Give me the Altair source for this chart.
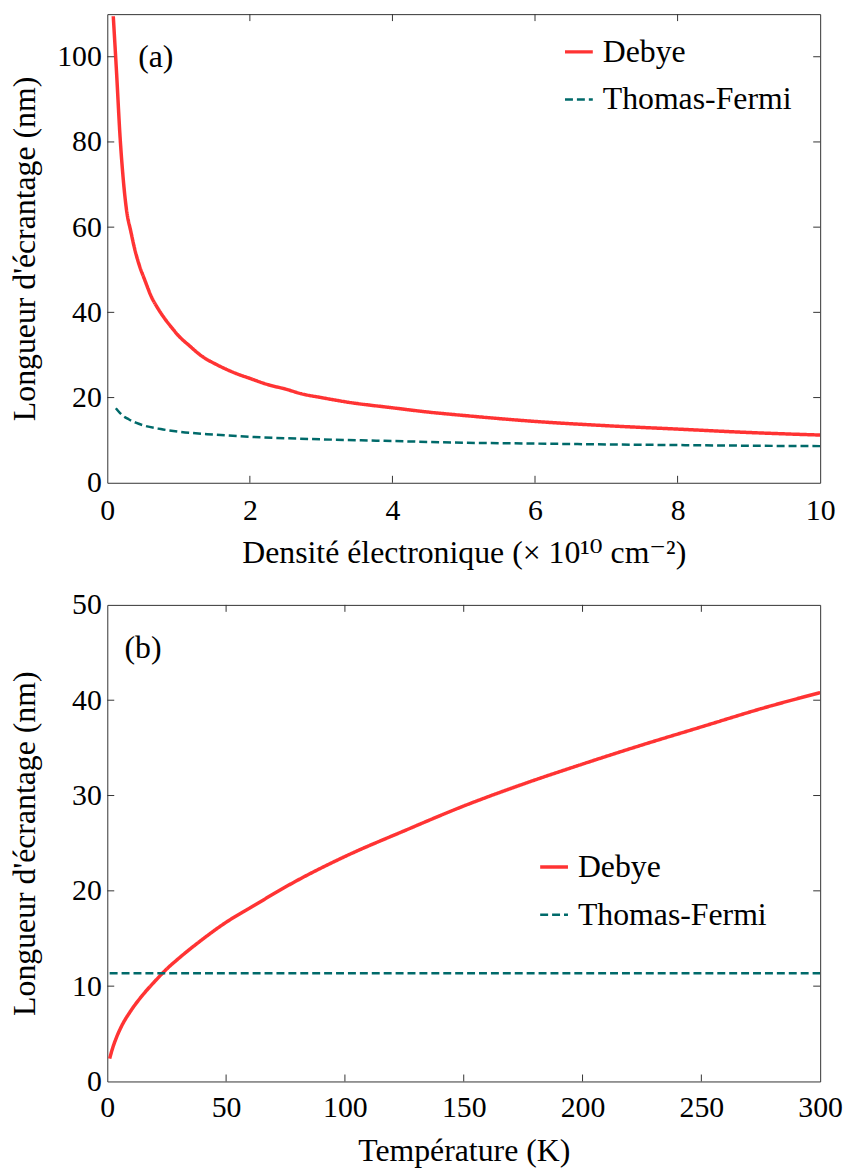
import altair as alt
import pandas as pd

# ---------------- data ----------------
series = ["Debye", "Thomas-Fermi"]

# panel (a): screening length vs electron density
a_debye_n = [0.084, 0.13, 0.18, 0.22, 0.27, 0.33, 0.39, 0.45, 0.53, 0.62, 0.70, 0.79,
             0.90, 1.0, 1.15, 1.32, 1.55, 1.8, 2.0, 2.26, 2.5, 2.72, 3.0, 3.38, 4.0,
             4.5, 5.0, 6.0, 7.0, 8.0, 9.0, 10.0]
a_debye_L = [109.5, 96.3, 81.0, 72.0, 64.0, 59.0, 54.5, 51.0, 47.4, 43.6, 41.2, 38.9,
             36.5, 34.5, 32.2, 29.8, 27.6, 25.7, 24.5, 23.0, 22.0, 20.9, 20.0, 18.9, 17.6,
             16.6, 15.8, 14.4, 13.4, 12.6, 11.8, 11.2]
a_tf_n = [0.12, 0.2, 0.3, 0.4, 0.5, 0.75, 1.0, 1.5, 2.0, 3.0, 4.0, 5.0, 6.0, 7.0, 8.0, 9.0, 10.0]
a_tf_L = [17.5, 16.0, 14.9, 14.1, 13.5, 12.6, 12.0, 11.3, 10.8, 10.2, 9.8, 9.4, 9.2, 9.0, 8.85, 8.7, 8.6]

# panel (b): screening length vs temperature
b_debye_T = [1, 2, 4, 6, 10, 15, 20, 25, 30, 40, 50, 60, 80, 100, 125, 150, 175, 200,
             225, 250, 275, 300]
b_debye_L = [2.4, 3.3, 4.7, 5.8, 7.45, 9.1, 10.5, 11.8, 12.9, 14.9, 16.7, 18.2, 21.1,
             23.6, 26.3, 28.9, 31.2, 33.3, 35.3, 37.2, 39.1, 40.8]
b_tf_T = [1, 300]
b_tf_L = [11.35, 11.35]

a_xlabels = [0, 2, 4, 6, 8, 10]
a_ylabels = [0, 20, 40, 60, 80, 100]
b_xlabels = [0, 50, 100, 150, 200, 250, 300]
b_ylabels = [0, 10, 20, 30, 40, 50]
a_xticks = [2, 4, 6, 8]
a_yticks = [20, 40, 60, 80, 100]
b_xticks = [50, 100, 150, 200, 250]
b_yticks = [10, 20, 30, 40]

ann_a = {"x": [0.68], "y": [100.0], "t": ["(a)"]}
ann_b = {"x": [15.0], "y": [45.5], "t": ["(b)"]}

colors = ["#ff3333", "#006a6a"]
dashes = [[1, 0], [8, 4]]
widths = [3.5, 2.5]

FONT = "Liberation Serif, DejaVu Serif"
FRAME = "#333333"
W = 718
TL = 7  # inward tick length


def make_df(xs1, ys1, xs2, ys2):
    d1 = pd.DataFrame({"x": xs1, "y": ys1, "s": series[0]})
    d2 = pd.DataFrame({"x": xs2, "y": ys2, "s": series[1]})
    return pd.concat([d1, d2], ignore_index=True)


def panel(df, xdom, ydom, xlabels, ylabels, xticks, yticks, xtitle, ytitle, H, lx, ly, ann,
          xlabpad, xtitlepad):
    xaxis = alt.Axis(values=xlabels, ticks=False, tickSize=0, domain=False, grid=False,
                     labelFont=FONT, labelFontSize=30, labelColor="black", labelPadding=xlabpad,
                     labelFlush=False, labelOverlap=False,
                     title=xtitle, titleFont=FONT, titleFontSize=32, titleFontWeight="normal",
                     titleColor="black", titlePadding=xtitlepad)
    yaxis = alt.Axis(values=ylabels, ticks=False, tickSize=0, domain=False, grid=False,
                     labelFont=FONT, labelFontSize=30, labelColor="black", labelPadding=6,
                     labelFlush=False, labelOverlap=False,
                     title=ytitle, titleFont=FONT, titleFontSize=32, titleFontWeight="normal",
                     titleColor="black", titleX=-66)
    xs = alt.Scale(domain=xdom, nice=False, zero=False)
    ys = alt.Scale(domain=ydom, nice=False, zero=False)
    xenc = alt.X("x:Q", scale=xs, axis=xaxis)
    yenc = alt.Y("y:Q", scale=ys, axis=yaxis)

    leg = alt.Legend(title=None, orient="none", legendX=lx, legendY=ly,
                     symbolType="stroke", symbolSize=784, symbolStrokeWidth=3,
                     labelFont=FONT, labelFontSize=32, labelColor="black", labelLimit=0,
                     labelOffset=8, rowPadding=16, padding=0)

    lines = alt.Chart(df).mark_line(clip=True, interpolate="monotone").encode(
        x=xenc, y=yenc,
        color=alt.Color("s:N", scale=alt.Scale(domain=series, range=colors), legend=leg),
        strokeDash=alt.StrokeDash("s:N", scale=alt.Scale(domain=series, range=dashes), legend=leg),
        strokeWidth=alt.StrokeWidth("s:N", scale=alt.Scale(domain=series, range=widths), legend=None),
        order="x:Q",
    )

    xt = pd.DataFrame({"x": xticks})
    yt = pd.DataFrame({"y": yticks})
    tick_bottom = alt.Chart(xt).mark_rule(color=FRAME, strokeWidth=1).encode(
        x=xenc, y=alt.value(H), y2=alt.value(H - TL))
    tick_top = alt.Chart(xt).mark_rule(color=FRAME, strokeWidth=1).encode(
        x=xenc, y=alt.value(0), y2=alt.value(TL))
    tick_left = alt.Chart(yt).mark_rule(color=FRAME, strokeWidth=1).encode(
        y=yenc, x=alt.value(0), x2=alt.value(TL))
    tick_right = alt.Chart(yt).mark_rule(color=FRAME, strokeWidth=1).encode(
        y=yenc, x=alt.value(W), x2=alt.value(W - TL))

    label = alt.Chart(pd.DataFrame(ann)).mark_text(
        font=FONT, fontSize=32, color="black", align="center", baseline="middle"
    ).encode(x=xenc, y=yenc, text="t:N")

    return alt.layer(lines, tick_bottom, tick_top, tick_left, tick_right, label).properties(
        width=W, height=H)


pa = panel(make_df(a_debye_n, a_debye_L, a_tf_n, a_tf_L), [0, 10], [0, 110],
           a_xlabels, a_ylabels, a_xticks, a_yticks,
           "Densité électronique (× 10¹⁰ cm⁻²)", "Longueur d'écrantage (nm)",
           472, 459, 22, ann_a, 13, 12)
pb = panel(make_df(b_debye_T, b_debye_L, b_tf_T, b_tf_L), [0, 300], [0, 50],
           b_xlabels, b_ylabels, b_xticks, b_yticks,
           "Température (K)", "Longueur d'écrantage (nm)",
           480, 434, 248, ann_b, 11, 14)

chart = alt.vconcat(pa, pb, spacing=20).resolve_scale(
    x="independent", y="independent", color="independent",
    strokeDash="independent", strokeWidth="independent"
).properties(
    padding={"left": 0, "top": 1, "right": 0, "bottom": 0},
    background="white",
).configure_view(stroke=FRAME, strokeWidth=1)

chart.save("out.html", embed_options={"renderer": "svg", "actions": False})
